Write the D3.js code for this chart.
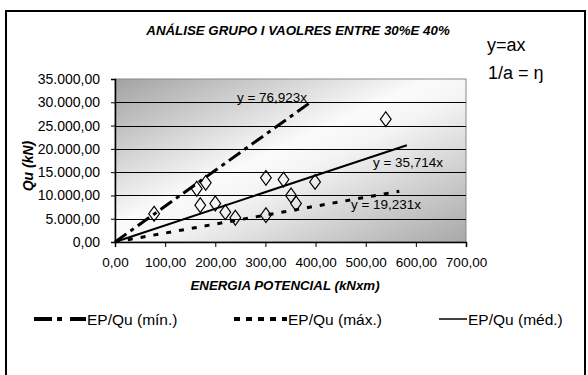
<!DOCTYPE html>
<html>
<head>
<meta charset="utf-8">
<script src="https://cdn.jsdelivr.net/npm/d3@7"></script>
<style>
  body { margin: 0; background: #fff; }
  text { font-family: "Liberation Sans", Arial, sans-serif; }
</style>
</head>
<body>
<div id="chart"></div>
<script>
// energia potencial (kN x m) vs Qu (kN)
const epValues = [78, 163, 181, 170, 200, 220, 240, 301, 301, 336, 351, 361, 399, 540];
const quValues = [6070, 11420, 12700, 7910, 8270, 6410, 5210, 13770, 5770, 13400, 9990, 8270, 12910, 26380];

// trendlines y = a x
const trendNames = ['EP/Qu (mín.)', 'EP/Qu (máx.)', 'EP/Qu (méd.)'];
const trendSlopes = [76.923, 19.231, 35.714];
const trendLabels = ['y = 76,923x', 'y = 19,231x', 'y = 35,714x'];
const trendEnds = [390, 567, 582];

const xTicks = [0, 100, 200, 300, 400, 500, 600, 700];
const yTicks = [0, 5000, 10000, 15000, 20000, 25000, 30000, 35000];

const W = 588, H = 375;
const margin = {top: 79, left: 115, right: 122, bottom: 133};
const width = W - margin.left - margin.right;
const height = H - margin.top - margin.bottom;

const fmt = d3.formatLocale({decimal: ',', thousands: '.', grouping: [3], currency: ['', '']}).format(',.2f');

const svg = d3.select('#chart').append('svg').attr('width', W).attr('height', H);

// outer frame
svg.append('rect')
  .attr('x', 6).attr('y', 11).attr('width', 579).attr('height', 420)
  .attr('fill', '#fff').attr('stroke', '#000').attr('stroke-width', 2);

const defs = svg.append('defs');
const grad = defs.append('linearGradient').attr('id', 'bg')
  .attr('x1', 0).attr('y1', 0).attr('x2', 1).attr('y2', 1);
grad.append('stop').attr('offset', 0).attr('stop-color', '#a2a2a2');
grad.append('stop').attr('offset', 0.45).attr('stop-color', '#fbfbfb');
grad.append('stop').attr('offset', 0.55).attr('stop-color', '#f4f4f4');
grad.append('stop').attr('offset', 1).attr('stop-color', '#a8a8a8');

const chart = svg.append('g').attr('transform', `translate(${margin.left}, ${margin.top})`);

const x = d3.scaleLinear().domain([0, 700]).range([0, width]);
const y = d3.scaleLinear().domain([0, 35000]).range([height, 0]);

// plot area
chart.append('rect')
  .attr('width', width).attr('height', height)
  .attr('fill', 'url(#bg)').attr('stroke', '#888').attr('stroke-width', 1);

// gridlines
chart.selectAll('.grid').data(yTicks.filter(d => d > 0 && d < 35000))
  .enter().append('line')
  .attr('x1', 0).attr('x2', width)
  .attr('y1', d => Math.round(y(d)) + 0.5).attr('y2', d => Math.round(y(d)) + 0.5)
  .attr('stroke', '#000').attr('stroke-width', 1);

// axes
const yAxis = chart.append('g')
  .call(d3.axisLeft(y).tickValues(yTicks).tickSize(4).tickPadding(11).tickFormat(fmt));
const xAxis = chart.append('g')
  .attr('transform', `translate(0, ${height})`)
  .call(d3.axisBottom(x).tickValues(xTicks).tickSize(5).tickPadding(10).tickFormat(fmt));
[xAxis, yAxis].forEach(a => {
  a.select('.domain').attr('stroke', '#000').attr('stroke-width', 1.5);
  a.selectAll('text').style('font-size', '13.5px').attr('fill', '#000');
});
yAxis.selectAll('text').style('font-size', '14px');

// data points
const diamond = d3.symbol().type(d3.symbolDiamond).size(64);
chart.selectAll('.pt').data(epValues)
  .enter().append('path')
  .attr('d', diamond)
  .attr('transform', (d, i) => `translate(${x(d)}, ${y(quValues[i])}) scale(1.25, 1)`)
  .attr('fill', 'none').attr('stroke', '#000').attr('stroke-width', 1);

// trendlines
const dashes = ['14,5,4,5', '5,8', null];
const widths = [3, 3, 2];
const trend = d3.line().x(d => x(d[0])).y(d => y(d[1]));
trendSlopes.forEach((a, i) => {
  chart.append('path')
    .datum([[0, 0], [trendEnds[i], a * trendEnds[i]]])
    .attr('d', trend)
    .attr('fill', 'none').attr('stroke', '#000')
    .attr('stroke-width', widths[i])
    .attr('stroke-dasharray', dashes[i]);
});

// equation labels
const labelPos = [[272, 102], [386, 209], [408, 167]];
trendLabels.forEach((t, i) => {
  svg.append('text')
    .attr('x', labelPos[i][0]).attr('y', labelPos[i][1])
    .attr('text-anchor', 'middle')
    .style('font-size', '13.5px')
    .text(t);
});

// titles
svg.append('text')
  .attr('x', 298).attr('y', 35).attr('text-anchor', 'middle')
  .style('font-size', '13.3px').style('font-weight', 'bold').style('font-style', 'italic')
  .text('ANÁLISE GRUPO I VAOLRES ENTRE 30%E 40%');
svg.append('text')
  .attr('x', 285).attr('y', 290).attr('text-anchor', 'middle')
  .style('font-size', '13.3px').style('font-weight', 'bold').style('font-style', 'italic')
  .text('ENERGIA POTENCIAL (kNxm)');
svg.append('text')
  .attr('transform', 'translate(33, 166) rotate(-90)').attr('text-anchor', 'middle')
  .style('font-size', '14px').style('font-weight', 'bold').style('font-style', 'italic')
  .text('Qu (kN)');
svg.append('text')
  .attr('x', 487).attr('y', 51)
  .style('font-size', '18px')
  .text('y=ax');
svg.append('text')
  .attr('x', 488).attr('y', 79)
  .style('font-size', '18px')
  .text('1/a = ŋ');

// legend
const legendX = [34, 234, 439];
const legendLen = [52, 53, 28];
const legendDash = ['18,5,5,8', '6,6', null];
const legendW = [4, 4, 1.5];
trendNames.forEach((n, i) => {
  const g = svg.append('g').attr('transform', `translate(${legendX[i]}, 319)`);
  g.append('line')
    .attr('x1', 0).attr('x2', legendLen[i])
    .attr('stroke', '#000').attr('stroke-width', legendW[i])
    .attr('stroke-dasharray', legendDash[i]);
  g.append('text')
    .attr('x', legendLen[i] + 1).attr('y', 5.5)
    .style('font-size', '15.5px')
    .text(n);
});
</script>
</body>
</html>
